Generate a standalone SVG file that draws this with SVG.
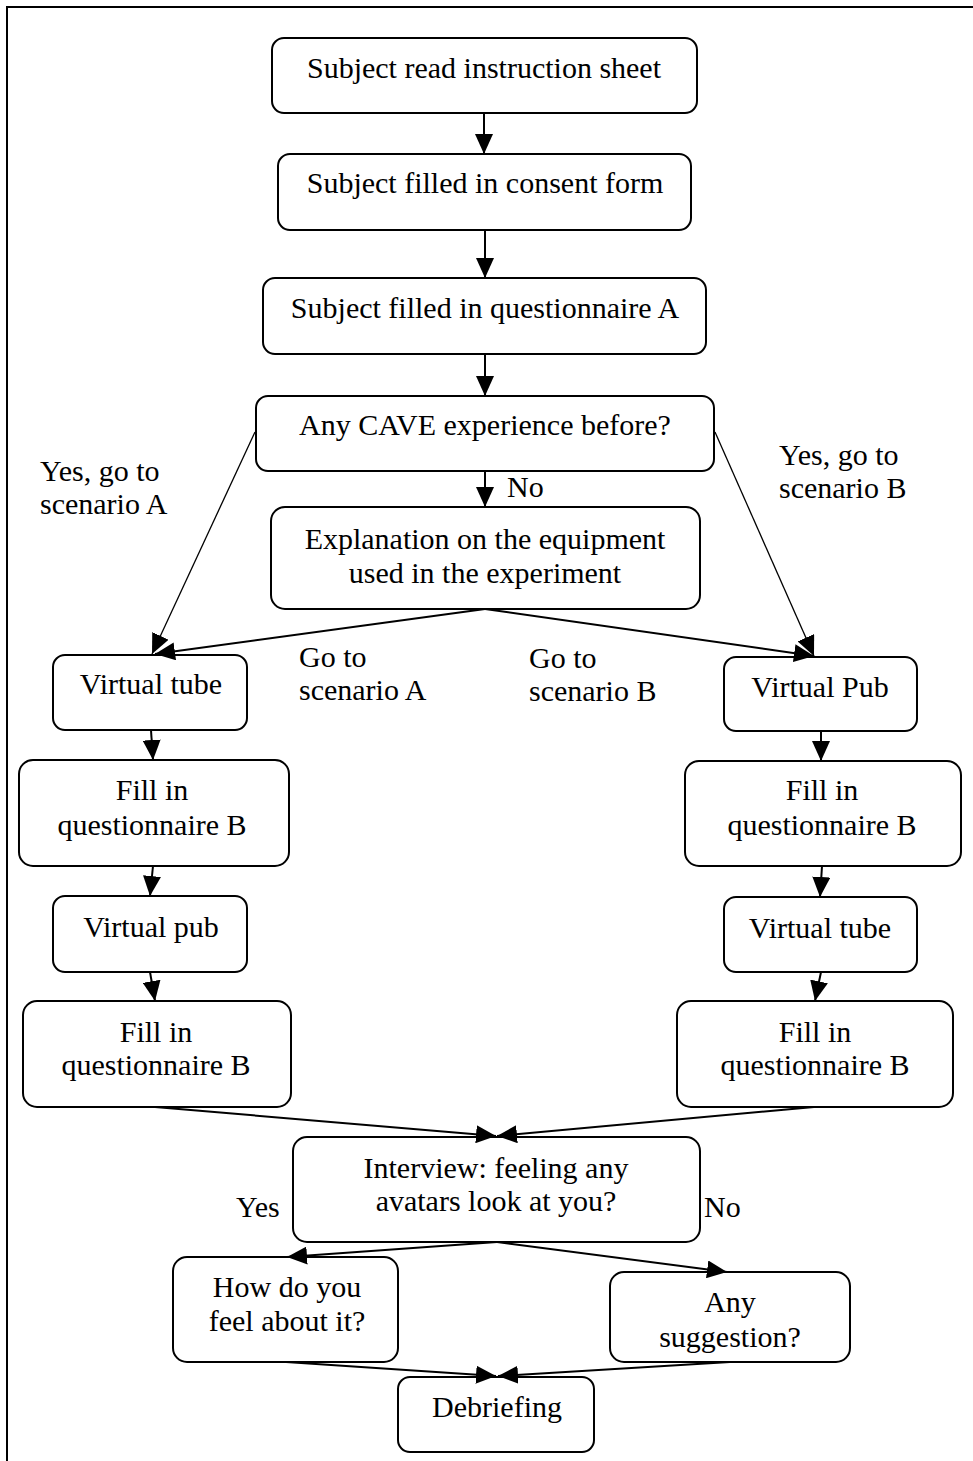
<svg xmlns="http://www.w3.org/2000/svg" width="973" height="1461" viewBox="0 0 973 1461">
<style>
.box{fill:#fff;stroke:#000;stroke-width:2}
.t{font-family:"Liberation Serif","Times New Roman",serif;font-size:30px;fill:#000;text-anchor:middle}
.l{font-family:"Liberation Serif","Times New Roman",serif;font-size:30px;fill:#000}
.c{fill:none;stroke:#000;stroke-width:2;marker-end:url(#ah)}
.thin{stroke-width:1.3}
</style>
<defs>
<marker id="ah" viewBox="0 0 20 18" refX="20" refY="9" markerWidth="20" markerHeight="18" markerUnits="userSpaceOnUse" orient="auto">
<path d="M0,0 L20,9 L0,18 z" fill="#000"/>
</marker>
</defs>
<rect width="973" height="1461" fill="#fff"/>
<path d="M7,1461 V7 H973" fill="none" stroke="#000" stroke-width="2"/>

<g id="labels">
<text class="l" x="40" y="481">Yes, go to</text>
<text class="l" x="40" y="514">scenario A</text>
<text class="l" x="779" y="465">Yes, go to</text>
<text class="l" x="779" y="498">scenario B</text>
<text class="l" x="507" y="497">No</text>
<text class="l" x="299" y="667">Go to</text>
<text class="l" x="299" y="700">scenario A</text>
<text class="l" x="529" y="668">Go to</text>
<text class="l" x="529" y="701">scenario B</text>
<text class="l" x="236" y="1217">Yes</text>
<text class="l" x="704" y="1217">No</text>
</g>

<g id="n1"><rect class="box" x="272" y="38" width="425" height="75" rx="12"/><text class="t" x="484" y="78">Subject read instruction sheet</text></g>
<g id="n2"><rect class="box" x="278" y="154" width="413" height="76" rx="12"/><text class="t" x="485" y="193">Subject filled in consent form</text></g>
<g id="n3"><rect class="box" x="263" y="278" width="443" height="76" rx="12"/><text class="t" x="485" y="318">Subject filled in questionnaire A</text></g>
<g id="n4"><rect class="box" x="256" y="396" width="458" height="75" rx="12"/><text class="t" x="485" y="435">Any CAVE experience before?</text></g>
<g id="n5"><rect class="box" x="271" y="507" width="429" height="102" rx="14"/><text class="t" x="485" y="549">Explanation on the equipment</text><text class="t" x="485" y="583">used in the experiment</text></g>
<g id="n6"><rect class="box" x="53" y="655" width="194" height="75" rx="12"/><text class="t" x="151" y="694">Virtual tube</text></g>
<g id="n7"><rect class="box" x="724" y="657" width="193" height="74" rx="12"/><text class="t" x="820" y="697">Virtual Pub</text></g>
<g id="n8"><rect class="box" x="19" y="760" width="270" height="106" rx="14"/><text class="t" x="152" y="800">Fill in</text><text class="t" x="152" y="835">questionnaire B</text></g>
<g id="n9"><rect class="box" x="685" y="761" width="276" height="105" rx="14"/><text class="t" x="822" y="800">Fill in</text><text class="t" x="822" y="835">questionnaire B</text></g>
<g id="n10"><rect class="box" x="53" y="896" width="194" height="76" rx="12"/><text class="t" x="151" y="937">Virtual pub</text></g>
<g id="n11"><rect class="box" x="724" y="897" width="193" height="75" rx="12"/><text class="t" x="820" y="938">Virtual tube</text></g>
<g id="n12"><rect class="box" x="23" y="1001" width="268" height="106" rx="14"/><text class="t" x="156" y="1042">Fill in</text><text class="t" x="156" y="1075">questionnaire B</text></g>
<g id="n13"><rect class="box" x="677" y="1001" width="276" height="106" rx="14"/><text class="t" x="815" y="1042">Fill in</text><text class="t" x="815" y="1075">questionnaire B</text></g>
<g id="n14"><rect class="box" x="293" y="1137" width="407" height="105" rx="14"/><text class="t" x="496" y="1178">Interview: feeling any</text><text class="t" x="496" y="1211">avatars look at you?</text></g>
<g id="n15"><rect class="box" x="173" y="1257" width="225" height="105" rx="14"/><text class="t" x="287" y="1297">How do you</text><text class="t" x="287" y="1331">feel about it?</text></g>
<g id="n16"><rect class="box" x="610" y="1272" width="240" height="90" rx="14"/><text class="t" x="730" y="1312">Any</text><text class="t" x="730" y="1347">suggestion?</text></g>
<g id="n17"><rect class="box" x="398" y="1377" width="196" height="75" rx="12"/><text class="t" x="497" y="1417">Debriefing</text></g>

<g id="connectors">
<line class="c" x1="484" y1="113" x2="484" y2="154"/>
<line class="c" x1="485" y1="230" x2="485" y2="278"/>
<line class="c" x1="485" y1="354" x2="485" y2="396"/>
<line class="c" x1="485" y1="471" x2="485" y2="507"/>
<line class="c thin" x1="255" y1="432" x2="152" y2="654"/>
<line class="c thin" x1="715" y1="432" x2="814" y2="656"/>
<line class="c" x1="485" y1="609" x2="155" y2="654"/>
<line class="c" x1="485" y1="609" x2="814" y2="656"/>
<line class="c" x1="151" y1="730" x2="153" y2="760"/>
<line class="c" x1="821" y1="731" x2="821" y2="761"/>
<line class="c" x1="153" y1="866" x2="150" y2="896"/>
<line class="c" x1="822" y1="866" x2="820" y2="897"/>
<line class="c" x1="150" y1="972" x2="155" y2="1001"/>
<line class="c" x1="821" y1="972" x2="815" y2="1001"/>
<line class="c" x1="155" y1="1107" x2="496" y2="1136"/>
<line class="c" x1="814" y1="1107" x2="497" y2="1136"/>
<line class="c" x1="497" y1="1242" x2="287" y2="1257"/>
<line class="c" x1="497" y1="1242" x2="727" y2="1272"/>
<line class="c" x1="286" y1="1362" x2="496" y2="1376"/>
<line class="c" x1="730" y1="1362" x2="498" y2="1376"/>
</g>
</svg>
